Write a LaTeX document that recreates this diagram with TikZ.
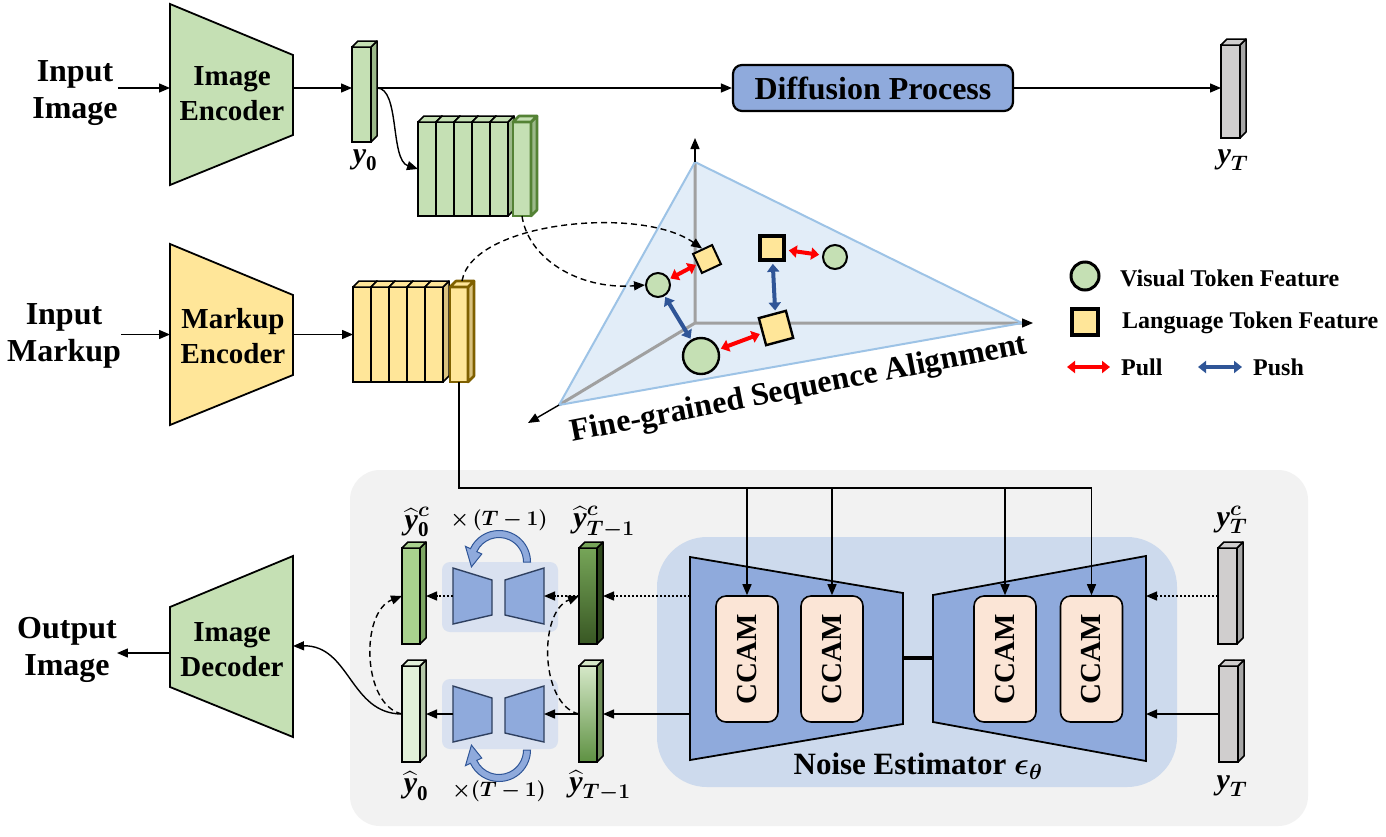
\RequirePackage{fix-cm}
\documentclass[tikz,border=0pt]{standalone}
\usepackage{amsmath}
\usepackage{bm}
\usepackage{graphicx}
\usepackage{fontspec}
\setmainfont{Liberation Serif}
\usetikzlibrary{arrows.meta}
\definecolor{egreen}{HTML}{C5E0B4}
\definecolor{egreenside}{HTML}{9CB98A}
\definecolor{eyellow}{HTML}{FFE699}
\definecolor{eyellowside}{HTML}{D9C27F}
\definecolor{eblue}{HTML}{8FAADC}
\definecolor{ccamc}{HTML}{FBE5D6}
\definecolor{panelc}{HTML}{F2F2F2}
\definecolor{nboxc}{HTML}{CDDAED}
\definecolor{sboxc}{HTML}{D9E1F0}
\definecolor{tric}{HTML}{DEEBF7}
\definecolor{triedge}{HTML}{9DC3E6}
\definecolor{axisgray}{HTML}{A0A0A0}
\definecolor{pushblue}{HTML}{2F5597}
\definecolor{dgreen}{HTML}{548235}
\definecolor{hlbrown}{HTML}{7F6000}
\definecolor{bargray}{HTML}{D0CECE}
\definecolor{bargrayside}{HTML}{A6A6A6}
\definecolor{minidraw}{HTML}{2E3F5F}
\definecolor{hyzc}{HTML}{A9D18E}
\definecolor{hyzcs}{HTML}{7DA663}
\definecolor{hyz}{HTML}{E2F0D9}
\definecolor{hyzs}{HTML}{B4C7A8}
\definecolor{hyta}{HTML}{76A558}
\definecolor{hytb}{HTML}{4B7B32}
\definecolor{hytc}{HTML}{385723}
\definecolor{hyts}{HTML}{2F4A1D}
\definecolor{hyua}{HTML}{D5E8C8}
\definecolor{hyub}{HTML}{9CC783}
\definecolor{hyuc}{HTML}{5E9142}
\definecolor{hyus}{HTML}{6F8F5A}
\newcommand\by{\text{\bfseries\itshape y}}
\def\barlw{1.5pt}
\newcommand\tdbar[9]{%
 \node[#6, draw=#8, line width=\barlw, minimum width=#4pt, minimum height=#5pt, inner sep=0pt, outer sep=0pt] (#1) at (#2,#3) {};
 \filldraw[fill=#7, draw=#8, line width=\barlw, line join=round] (#1.north east) -- ++(6,-6) -- ([shift={(6,-6)}]#1.south east) -- (#1.south east) -- cycle;
 \filldraw[fill=#9, draw=#8, line width=\barlw, line join=round] (#1.north west) -- ++(6,-6) -- ([shift={(6,-6)}]#1.north east) -- (#1.north east) -- cycle;
}
\begin{document}
\begin{tikzpicture}[x=1pt,y=-1pt,
 arr/.style={-{Triangle[length=11pt,width=9pt]}, line width=1.4pt},
 ln/.style={line width=1.4pt},
 dasharr/.style={arr, dash pattern=on 6pt off 4pt},
 dotarr/.style={arr, dash pattern=on 2pt off 2pt},
 enc/.style={draw=black, line width=1.8pt, line join=miter},
 lbl/.style={font=\fontsize{32}{37}\selectfont\bfseries, align=center, inner sep=0pt},
 enct/.style={font=\fontsize{29}{35}\selectfont\bfseries, align=center, inner sep=0pt},
 mlbl/.style={font=\fontsize{30}{36}\selectfont, inner sep=0pt},
 tlbl/.style={font=\fontsize{21}{25}\selectfont, inner sep=0pt},
 ccam/.style={draw=black, line width=1.6pt, fill=ccamc, rounded corners=10pt, minimum width=62pt, minimum height=126pt, inner sep=0pt, font=\fontsize{29}{33}\selectfont\bfseries},
 mini/.style={draw=minidraw, line width=1.4pt, fill=eblue, line join=miter},
 sbox/.style={fill=sboxc, rounded corners=8pt, minimum width=116pt, minimum height=70pt, inner sep=0pt},
 tokc/.style={circle, draw=black, fill=egreen, line width=2pt, inner sep=0pt},
 toks/.style={rectangle, draw=black, fill=eyellow, line width=2pt, inner sep=0pt},
 pull/.style={{Triangle[length=8pt,width=12pt]}-{Triangle[length=8pt,width=12pt]}, red, line width=4pt},
 push/.style={{Triangle[length=8pt,width=12pt]}-{Triangle[length=8pt,width=12pt]}, pushblue, line width=4pt},
 legt/.style={font=\fontsize{24}{28}\selectfont\bfseries, anchor=west, inner sep=0pt},
 rot/.style={fill=eblue, draw=pushblue, line width=1pt, line join=miter}
]
\fill[white] (0,0) rectangle (1386,836);
\useasboundingbox (0,0) rectangle (1386,836);

% ---------- bottom panel ----------
\node[fill=panelc, rounded corners=30pt, minimum width=958pt, minimum height=356pt, inner sep=0pt] (panel) at (829,648) {};
\node[fill=nboxc, rounded corners=50pt, minimum width=520pt, minimum height=250pt, inner sep=0pt] (noise) at (917,662) {};

% ---------- top row ----------
\node[lbl] (inimg) at (75,93) {Input\\Image};
\coordinate (encIin) at (170,88);
\coordinate (encIout) at (293,88);
\draw[enc, fill=egreen] (170,4) -- (293,55) -- (293,135) -- (170,185) -- cycle;
\node[enct] (imgenc) at (232,94) {Image\\Encoder};
\draw[arr] (inimg.east |- encIin) -- (encIin);

\tdbar{y0}{361.5}{94.5}{19}{95}{fill=egreen}{egreenside}{black}{egreen}
\draw[arr] (encIout) -- (y0.west |- encIout);
\node[mlbl] (y0l) at (365,160) {$\by_{\mathbf 0}$};
\coordinate (y0out) at (377,88);

\node[draw=black, line width=2.2pt, fill=eblue, rounded corners=9pt, minimum width=280pt, minimum height=46pt, font=\fontsize{32}{36}\selectfont\bfseries, inner sep=0pt] (diff) at (873,88) {Diffusion Process};
\draw[arr] (y0out) -- (diff.west);
\tdbar{yT0}{1230.5}{91.5}{19}{93}{fill=bargray}{bargrayside}{black}{bargray}
\draw[arr] (diff.east) -- (yT0.west |- diff.east);
\node[mlbl] (yT0l) at (1233,160) {$\by_{\bm T}$};

% green stack
\foreach \i/\x in {1/427,2/445,3/463,4/481,5/499} {
 \tdbar{gs\i}{\x}{169}{18}{94}{fill=egreen}{egreenside}{black}{egreen}
}
{\def\barlw{2.6pt}\tdbar{gsh}{522}{169}{18}{94}{fill=egreen}{egreenside}{dgreen}{egreen}}
\draw[arr] (y0out) .. controls (400,88) and (390,160) .. (gs1.west);

% ---------- markup row ----------
\node[lbl] (inmk) at (64,336) {Input\\Markup};
\coordinate (encMin) at (170,334.5);
\coordinate (encMout) at (293,334.5);
\draw[enc, fill=eyellow] (170,244) -- (293,295) -- (293,375) -- (170,425) -- cycle;
\node[enct] (mkenc) at (233,336) {Markup\\Encoder};
\draw[arr] (inmk.east |- encMin) -- (encMin);
\foreach \i/\x in {1/362,2/380,3/398,4/416,5/434} {
 \tdbar{ys\i}{\x}{334.5}{18}{95}{fill=eyellow}{eyellowside}{black}{eyellow}
}
{\def\barlw{2.6pt}\tdbar{ysh}{459}{334.5}{18}{95}{fill=eyellow}{eyellowside}{hlbrown}{eyellow}}
\draw[arr] (encMout) -- (ys1.west);

% ---------- alignment space ----------
\coordinate (O) at (695,323);
\coordinate (At) at (695,162);
\coordinate (Ar) at (1022,323);
\coordinate (Al) at (559,405);
\coordinate (Att) at (695,138);
\coordinate (Art) at (1033,323);
\coordinate (Alt) at (528,423);
\fill[tric, fill opacity=0.85] (At) -- (Ar) -- (Al) -- cycle;
\draw[axisgray, line width=3pt] (O) -- (At) (O) -- (Ar) (O) -- (Al);
\draw[triedge, line width=2pt, line join=round] (At) -- (Ar) -- (Al) -- cycle;
\draw[arr] (At) -- (Att);
\draw[arr] (Ar) -- (Art);
\draw[arr] (Al) -- (Alt);

\node[tokc, minimum size=24pt] (c1) at (658,285) {};
\node[toks, minimum size=21pt, rotate=25] (sq1) at (707,259) {};
\node[toks, minimum size=24pt, line width=3.6pt] (sq2) at (772,248) {};
\node[tokc, minimum size=24pt] (c2) at (835,257) {};
\node[toks, minimum size=28pt, rotate=15, line width=2.4pt] (sq3) at (776,328) {};
\node[tokc, minimum size=36pt, line width=2.4pt] (c3) at (701,356) {};
\draw[pull, shorten <=1pt, shorten >=1pt] (c1) -- (sq1);
\draw[pull, shorten <=3pt, shorten >=3pt] (sq2) -- (c2);
\draw[pull, shorten <=2pt, shorten >=2pt] (c3) -- (sq3);
\draw[push, shorten <=2pt, shorten >=2pt] (sq2) -- (sq3);
\draw[push, shorten <=1pt, shorten >=1pt] (c1) -- (c3);

\draw[dasharr] (gsh.south) .. controls (528,258) and (578,290) .. (c1.west);
\draw[dasharr] ([shift={(3,-6)}]ysh.north) .. controls (472,222) and (640,205) .. (sq1.north);

\node[rotate=11, font=\fontsize{32}{36}\selectfont\bfseries, inner sep=0pt] (fsa) at (799,390) {Fine-grained Sequence Alignment};

% legend
\node[tokc, minimum size=28pt, line width=3pt] (lc) at (1085,276) {};
\node[legt] (lct) at (1120,278) {Visual Token Feature};
\node[toks, minimum size=26pt, line width=3.6pt] (ls) at (1085,322) {};
\node[legt] (lst) at (1122,323) {Language Token Feature};
\coordinate (pullA) at (1067,367);
\coordinate (pullB) at (1110,367);
\draw[pull] (pullA) -- (pullB);
\node[legt] (pullt) at (1121,367) {Pull};
\coordinate (pushA) at (1198,367);
\coordinate (pushB) at (1242,367);
\draw[push] (pushA) -- (pushB);
\node[legt] (pusht) at (1253,367) {Push};

% ---------- noise estimator ----------
\draw[enc, fill=eblue] (690,557) -- (903,593) -- (903,724) -- (690,760) -- cycle;
\draw[enc, fill=eblue] (933,595) -- (1146,556) -- (1146,761) -- (933,722) -- cycle;
\coordinate (uLr) at (903,658);
\coordinate (uRl) at (933,658);
\draw[line width=4.5pt] (uLr) -- (uRl);
\node[ccam] (cc1) at (747,659) {\rotatebox{90}{CCAM}};
\node[ccam] (cc2) at (832,659) {\rotatebox{90}{CCAM}};
\node[ccam] (cc3) at (1005,659) {\rotatebox{90}{CCAM}};
\node[ccam] (cc4) at (1091.5,659) {\rotatebox{90}{CCAM}};
\node[font=\fontsize{31}{36}\selectfont\bfseries, inner sep=0pt] (nel) at (918,766) {Noise Estimator $\bm{\epsilon}_{\bm{\theta}}$};

\coordinate (bus) at (1091.5,488);
\draw[ln] (ysh.south) |- (bus);
\foreach \c in {cc1,cc2,cc3,cc4} { \draw[arr] (\c.north |- bus) -- (\c.north); }

% right bars
\tdbar{yTc}{1227.5}{596}{19}{96}{fill=bargray}{bargrayside}{black}{bargray}
\tdbar{yT}{1228.5}{714}{19}{96}{fill=bargray}{bargrayside}{black}{bargray}
\node[mlbl] (yTcl) at (1232,520) {$\by^{\bm c}_{\bm T}$};
\node[mlbl] (yTl) at (1232,786) {$\by_{\bm T}$};
\coordinate (uRr1) at (1146,596);
\coordinate (uRr2) at (1146,714);
\draw[dotarr] (yTc.west) -- (uRr1);
\draw[arr] (yT.west) -- (uRr2);
\coordinate (uLl1) at (690,596);
\coordinate (uLl2) at (690,714);

% left bars
\tdbar{hy0c}{411}{596}{18}{96}{fill=hyzc}{hyzcs}{black}{hyzc}
\tdbar{hy0}{411}{714}{18}{96}{fill=hyz}{hyzs}{black}{hyz}
\tdbar{hyTc}{588}{596}{18}{96}{top color=hyta, middle color=hytb, bottom color=hytc}{hyts}{black}{hyta}
\tdbar{hyT}{588}{714}{18}{96}{top color=hyua, middle color=hyub, bottom color=hyuc}{hyus}{black}{hyua}
\node[mlbl] (hy0cl) at (417,522) {$\widehat{\by}^{\bm c}_{\mathbf 0}$};
\node[mlbl] (hyTcl) at (604,522) {$\widehat{\by}^{\bm c}_{\bm{T-1}}$};
\node[mlbl] (hy0l) at (416,786) {$\widehat{\by}_{\mathbf 0}$};
\node[mlbl] (hyTl) at (600,786) {$\widehat{\by}_{\bm{T-1}}$};

% mini denoisers
\node[sbox] (sb1) at (500,597) {};
\node[sbox] (sb2) at (500,714) {};
\draw[mini] (453,568) -- (492,580) -- (492,615) -- (453,624) -- cycle;
\draw[mini] (505,580) -- (544,568) -- (544,624) -- (505,615) -- cycle;
\draw[mini] (453,686) -- (492,698) -- (492,733) -- (453,742) -- cycle;
\draw[mini] (505,698) -- (544,686) -- (544,742) -- (505,733) -- cycle;
\coordinate (m1L) at (453,596);
\coordinate (m1R) at (544,596);
\coordinate (m2L) at (453,714);
\coordinate (m2R) at (544,714);

\draw[dotarr] (uLl1) -- ([xshift=6pt]hyTc.east);
\draw[dotarr] (hyTc.west) -- (m1R);
\draw[dotarr] (m1L) -- ([xshift=6pt]hy0c.east);
\draw[arr] (uLl2) -- ([xshift=6pt]hyT.east);
\draw[arr] (hyT.west) -- (m2R);
\draw[arr] (m2L) -- ([xshift=6pt]hy0.east);
\draw[dasharr] (hy0.west) .. controls (362,705) and (360,612) .. (hy0c.west);
\draw[dasharr] (hyT.west) .. controls (540,705) and (538,612) .. (hyTc.west);

% rotation arrows
\draw[rot] ([shift={(499,562)}]0:31.5) arc[start angle=0,end angle=-155,radius=31.5]
 -- ([shift={(499,562)}]-155:37) -- ([shift={(499,562)}]-190:28) -- ([shift={(499,562)}]-155:19)
 -- ([shift={(499,562)}]-155:24.5) arc[start angle=-155,end angle=0,radius=24.5] -- cycle;
\draw[rot] ([shift={(499,750)}]0:31.5) arc[start angle=0,end angle=155,radius=31.5]
 -- ([shift={(499,750)}]155:37) -- ([shift={(499,750)}]190:28) -- ([shift={(499,750)}]155:19)
 -- ([shift={(499,750)}]155:24.5) arc[start angle=155,end angle=0,radius=24.5] -- cycle;
\node[tlbl] (rep1) at (499,520) {$\bm{\times\,(T-1)}$};
\node[tlbl] (rep2) at (499,791) {$\bm{\times(T-1)}$};

% image decoder
\draw[enc, fill=egreen] (170,607) -- (293,556) -- (293,737) -- (170,687) -- cycle;
\node[enct] (imgdec) at (232,650) {Image\\Decoder};
\coordinate (decR) at (293,646);
\coordinate (decL) at (170,653);
\node[lbl] (outimg) at (67,650) {Output\\Image};
\draw[arr] (hy0.west) .. controls (350,714) and (350,645) .. (decR);
\draw[arr] (decL) -- (outimg.east |- decL);
\end{tikzpicture}
\end{document}
